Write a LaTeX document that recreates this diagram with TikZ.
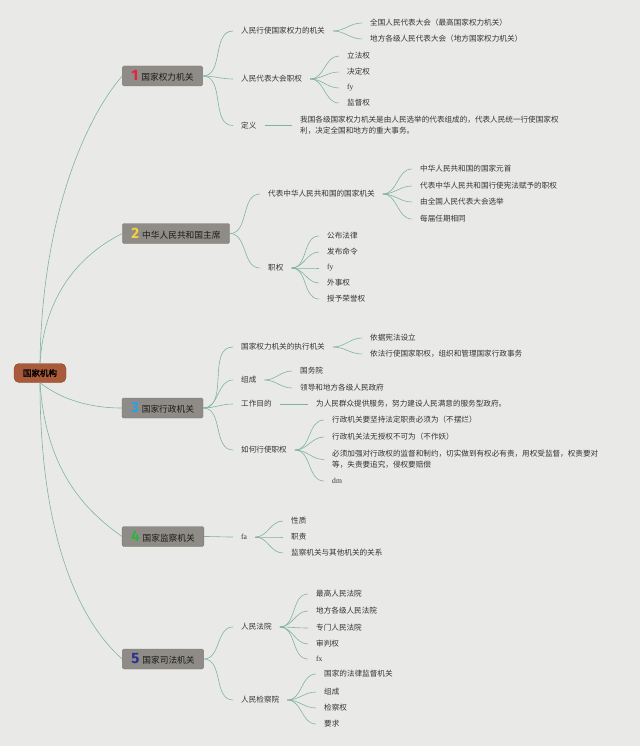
\documentclass[tikz,border=0pt]{standalone}
\usepackage{fontspec}
\setmainfont{Noto Sans CJK SC}
\newfontfamily\cjkbold{Noto Sans CJK SC}[FakeBold=1.6]
\newfontfamily\numfont{Fira Sans}
\newfontfamily\latfont{Liberation Serif}
\definecolor{bg}{HTML}{E9EAE8}
\definecolor{boxfill}{HTML}{8F8C87}
\definecolor{boxdraw}{HTML}{7C7974}
\definecolor{rootfill}{HTML}{A95A3B}
\definecolor{rootdraw}{HTML}{8C4529}
\definecolor{conncol}{HTML}{80B2A4}
\definecolor{txt}{HTML}{333333}
\definecolor{nred}{HTML}{E8203E}
\definecolor{nyellow}{HTML}{F5D33C}
\definecolor{nblue}{HTML}{2A9FE3}
\definecolor{ngreen}{HTML}{2DB43A}
\definecolor{nnavy}{HTML}{2B2F8F}
\newcommand{\bignum}[2]{{\numfont\bfseries\fontsize{15}{15}\selectfont\color{#1}#2}\hspace{3pt}}
\newcommand{\lat}[1]{{\latfont #1}}
\begin{document}
\begin{tikzpicture}[x=1pt,y=-1pt,
  rootbox/.style={draw=rootdraw,fill=rootfill,rounded corners=5pt,minimum width=52pt,minimum height=19pt,inner sep=0pt,font=\cjkbold\fontsize{8.5}{10}\selectfont,text=black},
  mainbox/.style={draw=boxdraw,fill=boxfill,rounded corners=1.5pt,minimum height=20pt,inner xsep=9pt,inner ysep=0pt,font=\fontsize{8.7}{10}\selectfont,text=black!90},
  leaf/.style={anchor=west,inner xsep=8pt,inner ysep=1pt,font=\fontsize{7.6}{11}\selectfont,text=txt,align=left},
  conn/.style={draw=conncol,line width=0.6pt},
]
\fill[bg] (0,0) rectangle (640,746);
\useasboundingbox (0,0) rectangle (640,746);

% root
\node[rootbox] (root) at (40,373) {国家机构};

% main nodes
\node[mainbox] (n1) at (162.5,76) {\bignum{nred}{1}国家权力机关};
\node[mainbox] (n2) at (176,233.5) {\bignum{nyellow}{2}中华人民共和国主席};
\node[mainbox] (n3) at (162.5,408) {\bignum{nblue}{3}国家行政机关};
\node[mainbox] (n4) at (163,536.5) {\bignum{ngreen}{4}国家监察机关};
\node[mainbox] (n5) at (163,659) {\bignum{nnavy}{5}国家司法机关};

\draw[conn] (root.north) .. controls +(2,-150) and +(-35,40) .. (n1.west);
\draw[conn] (root.north) .. controls +(5,-80) and +(-30,15) .. (n2.west);
\draw[conn] (root.south) .. controls +(15,12) and +(-40,0) .. (n3.west);
\draw[conn] (root.south) .. controls +(6,90) and +(-35,-25) .. (n4.west);
\draw[conn] (root.south) .. controls +(0,160) and +(-40,-35) .. (n5.west);

% ---- node 1
\node[leaf] (c11) at (233,31) {人民行使国家权力的机关};
\node[leaf] (c12) at (233,79) {人民代表大会职权};
\node[leaf] (c13) at (233,125.5) {定义};
\node[leaf] (g111) at (362,23) {全国人民代表大会（最高国家权力机关）};
\node[leaf] (g112) at (362,39) {地方各级人民代表大会（地方国家权力机关）};
\node[leaf] (g121) at (339,56) {立法权};
\node[leaf] (g122) at (339,72) {决定权};
\node[leaf] (g123) at (339,88) {\lat{fy}};
\node[leaf] (g124) at (339,103) {监督权};
\node[leaf] (g131) at (292,125.5) {我国各级国家权力机关是由人民选举的代表组成的，代表人民统一行使国家权\\利，决定全国和地方的重大事务。};
\foreach \c in {c11,c12,c13} \draw[conn] (n1.east) to[out=0,in=180] (\c.west);
\foreach \c in {g111,g112} \draw[conn] (c11.east) to[out=0,in=180] (\c.west);
\foreach \c in {g121,g122,g123,g124} \draw[conn] (c12.east) to[out=0,in=180] (\c.west);
\draw[conn] (c13.east) -- (g131.west);

% ---- node 2
\node[leaf] (c21) at (260,194) {代表中华人民共和国的国家机关};
\node[leaf] (c22) at (260,268) {职权};
\node[leaf] (g211) at (412,169) {中华人民共和国的国家元首};
\node[leaf] (g212) at (412,186) {代表中华人民共和国行使宪法赋予的职权};
\node[leaf] (g213) at (412,202) {由全国人民代表大会选举};
\node[leaf] (g214) at (412,219) {每届任期相同};
\node[leaf] (g221) at (319,236) {公布法律};
\node[leaf] (g222) at (319,252) {发布命令};
\node[leaf] (g223) at (319,268) {\lat{fy}};
\node[leaf] (g224) at (319,283) {外事权};
\node[leaf] (g225) at (319,299) {授予荣誉权};
\foreach \c in {c21,c22} \draw[conn] (n2.east) to[out=0,in=180] (\c.west);
\foreach \c in {g211,g212,g213,g214} \draw[conn] (c21.east) to[out=0,in=180] (\c.west);
\foreach \c in {g221,g222,g223,g224,g225} \draw[conn] (c22.east) to[out=0,in=180] (\c.west);

% ---- node 3
\node[leaf] (c31) at (233,347) {国家权力机关的执行机关};
\node[leaf] (c32) at (233,380) {组成};
\node[leaf] (c33) at (233,404) {工作目的};
\node[leaf] (c34) at (233,450) {如何行使职权};
\node[leaf] (g311) at (362,338) {依据宪法设立};
\node[leaf] (g312) at (362,354) {依法行使国家职权，组织和管理国家行政事务};
\node[leaf] (g321) at (292,371) {国务院};
\node[leaf] (g322) at (292,388) {领导和地方各级人民政府};
\node[leaf] (g331) at (308,404) {为人民群众提供服务，努力建设人民满意的服务型政府。};
\node[leaf] (g341) at (324,420) {行政机关要坚持法定职责必须为（不摆烂）};
\node[leaf] (g342) at (324,437) {行政机关法无授权不可为（不作妖）};
\node[leaf] (g343) at (324,459.5) {必须加强对行政权的监督和制约，切实做到有权必有责，用权受监督，权责要对\\等，失责要追究，侵权要赔偿};
\node[leaf] (g344) at (324,481) {\lat{dm}};
\foreach \c in {c31,c32,c33,c34} \draw[conn] (n3.east) to[out=0,in=180] (\c.west);
\foreach \c in {g311,g312} \draw[conn] (c31.east) to[out=0,in=180] (\c.west);
\foreach \c in {g321,g322} \draw[conn] (c32.east) to[out=0,in=180] (\c.west);
\draw[conn] (c33.east) -- (g331.west);
\foreach \c in {g341,g342,g343,g344} \draw[conn] (c34.east) to[out=0,in=180] (\c.west);

% ---- node 4
\node[leaf] (c41) at (233,537) {\lat{fa}};
\node[leaf] (g411) at (283,521) {性质};
\node[leaf] (g412) at (283,537) {职责};
\node[leaf] (g413) at (283,553) {监察机关与其他机关的关系};
\draw[conn] (n4.east) to[out=0,in=180] (c41.west);
\foreach \c in {g411,g412,g413} \draw[conn] (c41.east) to[out=0,in=180] (\c.west);

% ---- node 5
\node[leaf] (c51) at (233,627) {人民法院};
\node[leaf] (c52) at (233,700) {人民检察院};
\node[leaf] (g511) at (308,594) {最高人民法院};
\node[leaf] (g512) at (308,611) {地方各级人民法院};
\node[leaf] (g513) at (308,628) {专门人民法院};
\node[leaf] (g514) at (308,644) {审判权};
\node[leaf] (g515) at (308,659) {\lat{fx}};
\node[leaf] (g521) at (316,674) {国家的法律监督机关};
\node[leaf] (g522) at (316,692) {组成};
\node[leaf] (g523) at (316,708) {检察权};
\node[leaf] (g524) at (316,724) {要求};
\foreach \c in {c51,c52} \draw[conn] (n5.east) to[out=0,in=180] (\c.west);
\foreach \c in {g511,g512,g513,g514,g515} \draw[conn] (c51.east) to[out=0,in=180] (\c.west);
\foreach \c in {g521,g522,g523,g524} \draw[conn] (c52.east) to[out=0,in=180] (\c.west);
\end{tikzpicture}
\end{document}
